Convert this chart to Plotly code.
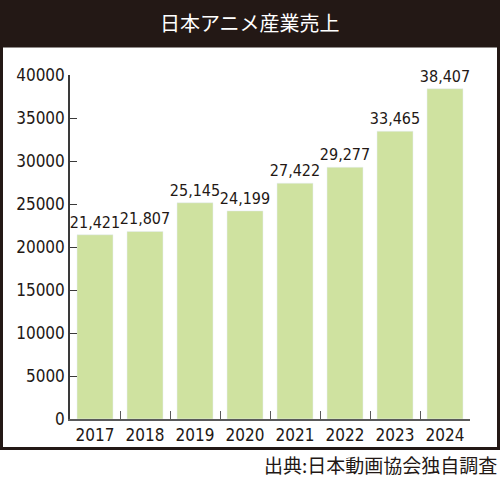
import plotly.graph_objects as go

years = ["2017", "2018", "2019", "2020", "2021", "2022", "2023", "2024"]
sales = [21421, 21807, 25145, 24199, 27422, 29277, 33465, 38407]
y_ticks = [0, 5000, 10000, 15000, 20000, 25000, 30000, 35000, 40000]

title_text = "日本アニメ産業売上"
source_text = "出典:日本動画協会独自調査"

W, H = 500, 477
PLOT_L, PLOT_R, PLOT_T, PLOT_B = 70, 470, 75, 419
DARK = "#231815"
NUM_FONT = "DejaVu Sans Condensed, Roboto, sans-serif"
JP_FONT = "Noto Sans CJK JP, sans-serif"


def px_x(x):
    return (x - PLOT_L) / (PLOT_R - PLOT_L)


def px_y(y):
    return (PLOT_B - y) / (PLOT_B - PLOT_T)


fig = go.Figure(go.Bar(
    x=years,
    y=sales,
    marker_color="#cfe2a0",
    text=[f"{v:,}" for v in sales],
    textposition="outside",
    constraintext="none",
    cliponaxis=False,
    textfont=dict(family=NUM_FONT, size=16, color=DARK),
))

fig.update_layout(
    width=W,
    height=H,
    margin=dict(l=PLOT_L, r=W - PLOT_R, t=PLOT_T, b=H - PLOT_B),
    paper_bgcolor="white",
    plot_bgcolor="white",
    bargap=0.28,
    showlegend=False,
    font=dict(family=NUM_FONT, color=DARK),
    shapes=[
        # header band
        dict(type="rect", xref="paper", yref="paper", layer="below",
             x0=px_x(0), x1=px_x(W), y0=px_y(47), y1=px_y(0),
             fillcolor=DARK, line_width=0),
        # frame
        dict(type="rect", xref="paper", yref="paper", layer="below",
             x0=px_x(1.5), x1=px_x(W - 1.5), y0=px_y(448.5), y1=px_y(46),
             line=dict(color=DARK, width=3)),
    ],
    annotations=[
        dict(text=title_text, xref="paper", yref="paper",
             x=px_x(W / 2), y=px_y(23), yanchor="middle", showarrow=False,
             font=dict(family=JP_FONT, size=20, color="white")),
        dict(text=source_text, xref="paper", yref="paper",
             x=px_x(W - 1), y=px_y(464), xanchor="right", yanchor="middle",
             showarrow=False,
             font=dict(family=JP_FONT, size=19, color=DARK)),
    ],
)

fig.update_xaxes(
    automargin=False, tickangle=0,
    showline=True, linecolor="#5a5a5a", linewidth=1.5,
    ticks="inside", tickson="boundaries", ticklen=8, tickcolor="#5a5a5a",
    tickfont=dict(family=NUM_FONT, size=17, color=DARK),
    showgrid=False,
)
fig.update_yaxes(
    automargin=False,
    range=[0, 40000],
    tickvals=y_ticks,
    ticktext=[str(v) for v in y_ticks],
    showline=True, linecolor="#3a3a3a", linewidth=1.5,
    ticks="inside", ticklen=7, tickcolor="#3a3a3a",
    tickfont=dict(family=NUM_FONT, size=17, color=DARK),
    showgrid=False, zeroline=False,
)

# the page keeps the browser's default body margin otherwise
fig.write_html(
    "out.html",
    config={"displayModeBar": False},
    post_script="document.body.style.margin = '0';",
)
